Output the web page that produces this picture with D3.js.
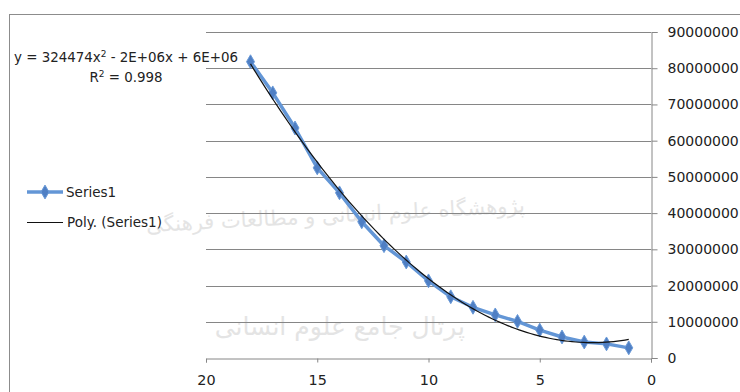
<!DOCTYPE html>
<html>
<head>
<meta charset="utf-8">
<script src="https://cdn.jsdelivr.net/npm/d3@7"></script>
<style>
  html, body { margin: 0; padding: 0; background: #ffffff; }
  svg { display: block; }
  text { font-family: "DejaVu Sans", Verdana, sans-serif; fill: #222; }
</style>
</head>
<body>
<svg id="chart" width="740" height="392"></svg>
<script>
// ---- data ----
const xValues = [18, 17, 16, 15, 14, 13, 12, 11, 10, 9, 8, 7, 6, 5, 4, 3, 2, 1];
const series1 = [81800000, 73200000, 63500000, 52500000, 45600000, 37600000, 31000000, 26500000,
                 21300000, 16900000, 14000000, 11900000, 10100000, 7700000, 5800000, 4400000, 3900000, 2800000];
const xTicks = [20, 15, 10, 5, 0];
const yTicks = [0, 10000000, 20000000, 30000000, 40000000, 50000000, 60000000, 70000000, 80000000, 90000000];
const legendLabels = ["Series1", "Poly. (Series1)"];
const equationText = ["y = 324474x", "2", " - 2E+06x + 6E+06"];
const r2Text = ["R", "2", " = 0.998"];
const watermarkTexts = ["پژوهشگاه علوم انسانی و مطالعات فرهنگی", "پرتال جامع علوم انسانی"];

const svg = d3.select("#chart");

// faint background watermark (as in the scanned reference)
const wm = svg.append("g");
wm.append("text").attr("x", 525).attr("y", 222).attr("text-anchor", "start")
  .attr("direction", "rtl").attr("font-size", 21).attr("font-family", "DejaVu Sans")
  .attr("transform", "rotate(-3 340 215)")
  .style("fill", "#e4e4e4").text(watermarkTexts[0]);
wm.append("text").attr("x", 465).attr("y", 335).attr("text-anchor", "start")
  .attr("direction", "rtl").attr("font-size", 25).attr("font-family", "DejaVu Sans")
  .style("fill", "#e4e4e4").text(watermarkTexts[1]);

// outer chart frame
svg.append("rect").attr("x", 9.5).attr("y", 14.5).attr("width", 800).attr("height", 400)
  .attr("fill", "none").attr("stroke", "#8c8c8c").attr("stroke-width", 1);

const x = d3.scaleLinear().domain([20, 0]).range([206, 651]);
const y = d3.scaleLinear().domain([0, 90000000]).range([358, 32]);

// gridlines
svg.append("g").selectAll("line").data(yTicks.filter(d => d > 0)).join("line")
  .attr("x1", x(20)).attr("x2", x(0))
  .attr("y1", d => Math.round(y(d)) + 0.5).attr("y2", d => Math.round(y(d)) + 0.5)
  .attr("stroke", "#868686").attr("stroke-width", 1);

// y axis (right)
const yAxis = d3.axisRight(y).tickValues(yTicks).tickFormat(d3.format("d")).tickSize(6).tickPadding(10);
const gy = svg.append("g").attr("transform", `translate(${Math.round(x(0)) + 0.5},0)`).call(yAxis);
gy.select(".domain").attr("stroke", "#868686");
gy.selectAll(".tick line").attr("stroke", "#868686");
gy.selectAll(".tick text").attr("font-size", 14).attr("font-family", "DejaVu Sans").attr("fill", "#2a2a2a");

// x axis (bottom)
const xAxis = d3.axisBottom(x).tickValues(xTicks).tickFormat(d3.format("d")).tickSize(4).tickPadding(12);
const gx = svg.append("g").attr("transform", `translate(0,${Math.round(y(0)) + 0.5})`).call(xAxis);
gx.select(".domain").attr("stroke", "#868686");
gx.selectAll(".tick line").attr("stroke", "#868686");
gx.selectAll(".tick text").attr("font-size", 14.4).attr("font-family", "DejaVu Sans").attr("fill", "#2a2a2a");

// polynomial trendline (least squares order 2 from series data)
function polyFit(xs, ys) {
  let s0 = xs.length, s1 = 0, s2 = 0, s3 = 0, s4 = 0, t0 = 0, t1 = 0, t2 = 0;
  xs.forEach((xv, i) => {
    const yv = ys[i];
    s1 += xv; s2 += xv * xv; s3 += xv ** 3; s4 += xv ** 4;
    t0 += yv; t1 += xv * yv; t2 += xv * xv * yv;
  });
  const M = [[s4, s3, s2, t2], [s3, s2, s1, t1], [s2, s1, s0, t0]];
  for (let i = 0; i < 3; i++) {
    for (let k = i + 1; k < 3; k++) {
      const f = M[k][i] / M[i][i];
      for (let j = i; j < 4; j++) M[k][j] -= f * M[i][j];
    }
  }
  const c = [0, 0, 0];
  for (let i = 2; i >= 0; i--) {
    let s = M[i][3];
    for (let j = i + 1; j < 3; j++) s -= M[i][j] * c[j];
    c[i] = s / M[i][i];
  }
  return c; // a, b, c
}
const coef = polyFit(xValues, series1);
const xMin = d3.min(xValues), xMax = d3.max(xValues);
const trend = d3.range(0, 101).map(i => {
  const xv = xMin + (xMax - xMin) * i / 100;
  return [xv, coef[0] * xv * xv + coef[1] * xv + coef[2]];
});

// series line
const line = d3.line().x(d => x(d[0])).y(d => y(d[1]));
const pts = xValues.map((xv, i) => [xv, series1[i]]);
svg.append("path").datum(pts).attr("d", line)
  .attr("fill", "none").attr("stroke", "#6396d6").attr("stroke-width", 3.5)
  .attr("stroke-linejoin", "round");

// markers
const diamond = d3.symbol().type(d3.symbolDiamond).size(55);
svg.append("g").selectAll("path").data(pts).join("path")
  .attr("d", diamond)
  .attr("transform", d => `translate(${x(d[0])},${y(d[1])})`)
  .attr("fill", "#4f7fc4").attr("stroke", "#6a9ad8").attr("stroke-width", 1);

// trendline
svg.append("path").datum(trend).attr("d", line)
  .attr("fill", "none").attr("stroke", "#111").attr("stroke-width", 1.2);

// equation
const eq = svg.append("text").attr("x", 14).attr("y", 62).attr("font-size", 13.4);
eq.append("tspan").text(equationText[0]);
eq.append("tspan").attr("dy", -5).attr("font-size", 9).text(equationText[1]);
eq.append("tspan").attr("dy", 5).text(equationText[2]);
const r2 = svg.append("text").attr("x", 126).attr("y", 82).attr("font-size", 13.4).attr("text-anchor", "middle");
r2.append("tspan").text(r2Text[0]);
r2.append("tspan").attr("dy", -5).attr("font-size", 9).text(r2Text[1]);
r2.append("tspan").attr("dy", 5).text(r2Text[2]);

// legend
const lg = svg.append("g");
lg.append("line").attr("x1", 27).attr("x2", 63).attr("y1", 192).attr("y2", 192)
  .attr("stroke", "#6396d6").attr("stroke-width", 3.5);
lg.append("path").attr("d", diamond).attr("transform", "translate(45,192)")
  .attr("fill", "#4f7fc4").attr("stroke", "#6a9ad8");
lg.append("text").attr("x", 66).attr("y", 197).attr("font-size", 13.5).text(legendLabels[0]);
lg.append("line").attr("x1", 27).attr("x2", 63).attr("y1", 222.5).attr("y2", 222.5)
  .attr("stroke", "#111").attr("stroke-width", 1.2);
lg.append("text").attr("x", 67).attr("y", 227).attr("font-size", 13.5).text(legendLabels[1]);
</script>
</body>
</html>
